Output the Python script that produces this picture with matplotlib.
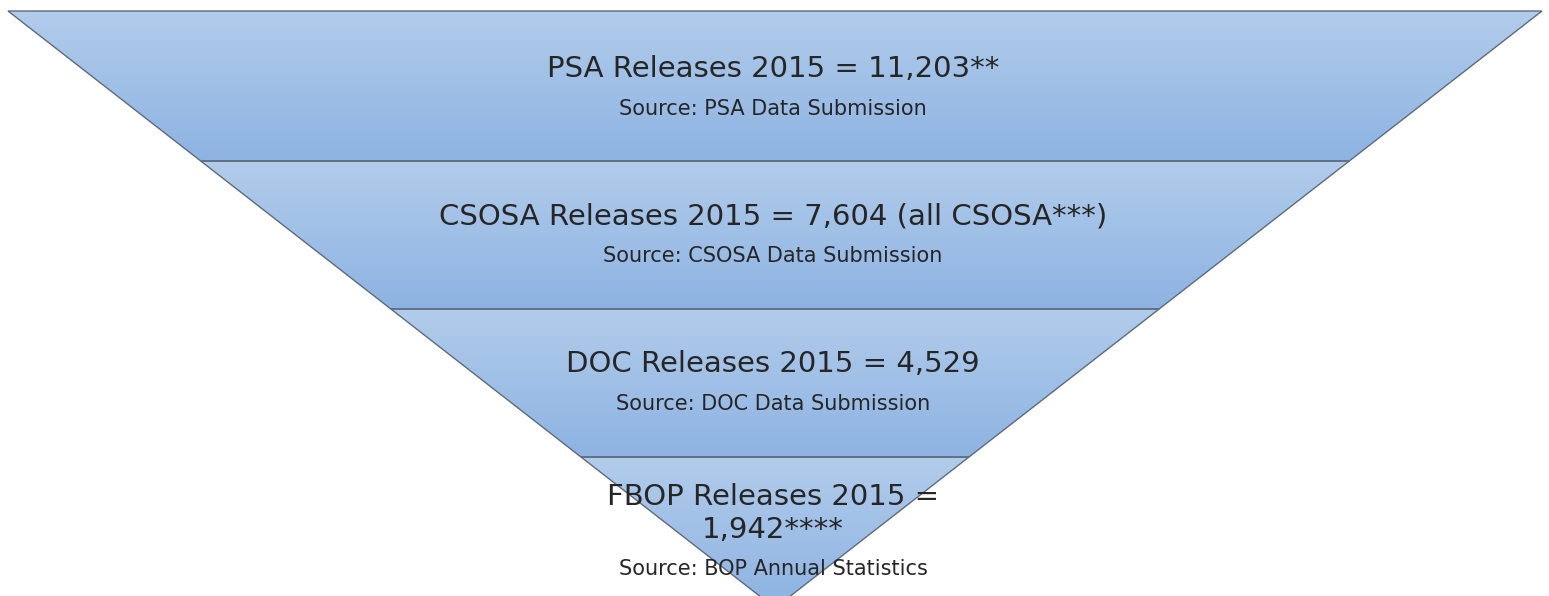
"""Inverted funnel of 2015 releases by agency."""

import matplotlib.pyplot as plt
import numpy as np
from matplotlib.colors import LinearSegmentedColormap
from matplotlib.patches import Polygon

agencies = ["PSA", "CSOSA", "DOC", "FBOP"]
releases = ["11,203**", "7,604 (all CSOSA***)", "4,529", "1,942****"]
sources = [
    "Source: PSA Data Submission",
    "Source: CSOSA Data Submission",
    "Source: DOC Data Submission",
    "Source: BOP Annual Statistics",
]

W, H = 1549, 596
fig = plt.figure(figsize=(W / 100, H / 100), dpi=100)
ax = fig.add_axes([0, 0, 1, 1])
ax.set_xlim(0, W)
ax.set_ylim(H, 0)
ax.axis("off")

top, apex_y = 11, 608
left, right, apex_x = 8, 1542, 775
bounds = [11, 161, 309, 457, apex_y]

cmap = LinearSegmentedColormap.from_list("band", ["#b2cceb", "#8db3e2"])
grad = np.linspace(0, 1, 256).reshape(-1, 1)


def edge_x(y):
    t = (y - top) / (apex_y - top)
    return left + (apex_x - left) * t, right + (apex_x - right) * t


for i, name in enumerate(agencies):
    y0, y1 = bounds[i], bounds[i + 1]
    l0, r0 = edge_x(y0)
    l1, r1 = edge_x(y1)
    poly = Polygon([(l0, y0), (r0, y0), (r1, y1), (l1, y1)], closed=True,
                   facecolor="none", edgecolor="#5f6b7a", lw=1.0, zorder=3)
    ax.add_patch(poly)
    im = ax.imshow(grad, cmap=cmap, aspect="auto", extent=(l0, r0, y1, y0),
                   zorder=2)
    im.set_clip_path(poly)

fam = ["DejaVu Sans"]
txt = dict(ha="center", va="baseline", family=fam, color="#262626", zorder=5)
title_base = [77, 224, 372]
src_base = [115, 262, 410, 575]
for i, name in enumerate(agencies):
    if name == "FBOP":
        ax.text(773, 505, f"{name} Releases 2015 =", fontsize=21, **txt)
        ax.text(773, 538, releases[i], fontsize=21, **txt)
    else:
        ax.text(773, title_base[i], f"{name} Releases 2015 = {releases[i]}",
                fontsize=21, **txt)
    ax.text(773, src_base[i], sources[i], fontsize=15, **txt)

fig.savefig("out.png", dpi=100)
